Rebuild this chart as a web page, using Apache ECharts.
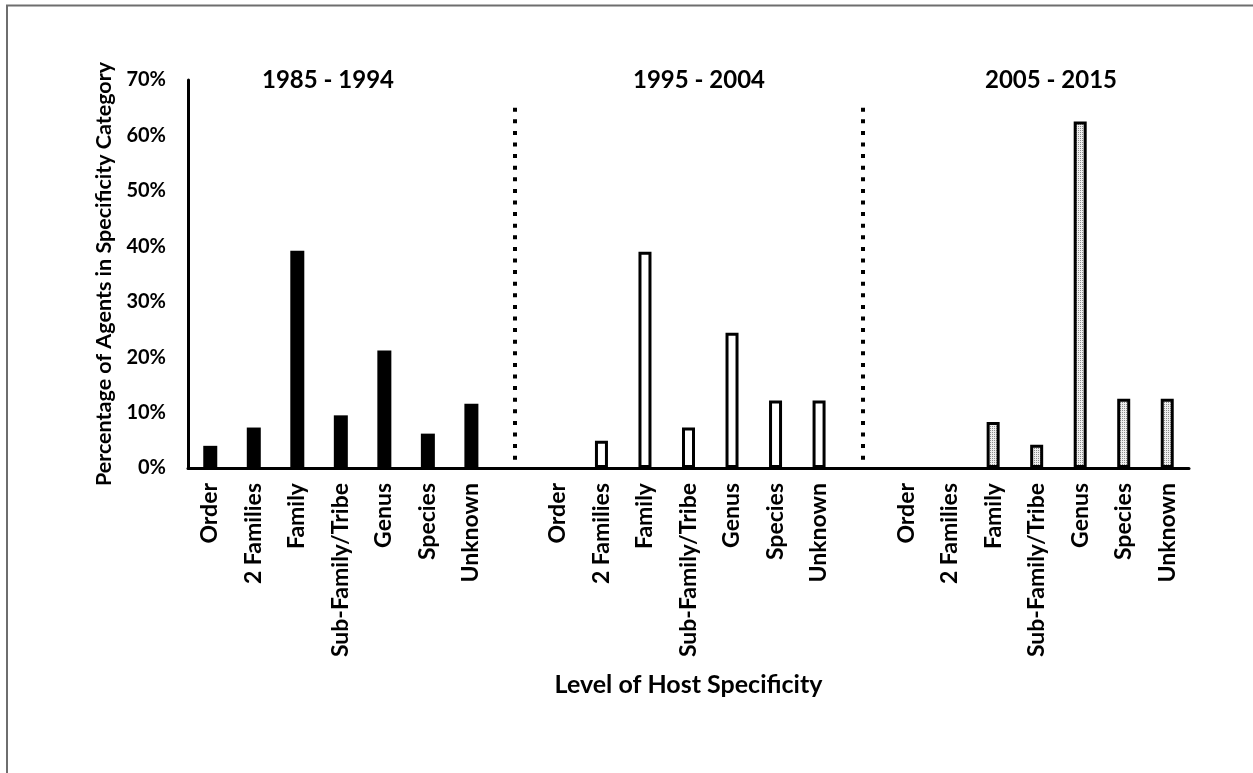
<!DOCTYPE html>
<html>
<head>
<meta charset="utf-8">
<script src="https://cdn.jsdelivr.net/npm/echarts@6/dist/echarts.min.js"></script>
<style>
  html, body { margin: 0; padding: 0; background: #fff; }
  #main { width: 1253px; height: 773px; }
</style>
</head>
<body>
<div id="main"></div>
<script>
var levels = ["Order", "2 Families", "Family", "Sub-Family/Tribe", "Genus", "Species", "Unknown"];
var periods = ["1985 - 1994", "1995 - 2004", "2005 - 2015"];
// percentage of agents per level, one array per period
var values1985 = [4.0, 7.3, 39.2, 9.5, 21.2, 6.2, 11.6];
var values1995 = [0, 4.9, 39.0, 7.3, 24.4, 12.2, 12.2];
var values2005 = [0, 0, 8.3, 4.2, 62.5, 12.5, 12.5];
var yTicks = [0, 10, 20, 30, 40, 50, 60, 70];

var chartDom = document.getElementById("main");
var myChart = echarts.init(chartDom);
var option;

// stipple fill for the last period
var pat = document.createElement("canvas");
pat.width = 2;
pat.height = 2;
var pctx = pat.getContext("2d");
pctx.fillStyle = "#eeeeee";
pctx.fillRect(0, 0, 2, 2);
pctx.fillStyle = "#8c8c8c";
pctx.fillRect(0, 0, 1, 1);

// x categories: 7 levels per period, one empty slot between periods
var cats = [];
var allValues = [values1985, values1995, values2005];
var seriesData = [[], [], []];
periods.forEach(function (p, gi) {
  if (gi > 0) {
    cats.push("gap" + gi);
    seriesData.forEach(function (d) { d.push("-"); });
  }
  levels.forEach(function (lv, li) {
    cats.push(gi + "|" + lv);
    seriesData.forEach(function (d, si) {
      var v = allValues[si][li];
      d.push(si === gi && v > 0 ? v : "-");
    });
  });
});

var font = "Lato";
var sepLine = {
  silent: true,
  symbol: "none",
  label: { show: false },
  lineStyle: { color: "#000", width: 4, type: [4, 7.6], cap: "butt" },
  data: [
    [{ coord: ["gap1", 65] }, { coord: ["gap1", 0] }],
    [{ coord: ["gap2", 65] }, { coord: ["gap2", 0] }]
  ]
};

option = {
  animation: false,
  backgroundColor: "#fff",
  textStyle: { fontFamily: font },
  graphic: [
    {
      type: "rect",
      shape: { x: 7, y: 5.5, width: 1400, height: 1000 },
      style: { fill: "none", stroke: "#6e6e6e", lineWidth: 2 },
      silent: true
    }
  ],
  title: [
    { text: periods[0], left: 328, top: 68 },
    { text: periods[1], left: 699, top: 68 },
    { text: periods[2], left: 1051, top: 68 }
  ].map(function (t) {
    t.textAlign = "center";
    t.padding = 0;
    t.textStyle = { fontFamily: font, fontWeight: "bold", fontSize: 24, color: "#000" };
    return t;
  }),
  grid: { left: 188, right: 64, top: 80, bottom: 305, containLabel: false },
  xAxis: {
    type: "category",
    data: cats,
    name: "Level of Host Specificity",
    nameLocation: "middle",
    nameGap: 204,
    nameTextStyle: { fontFamily: font, fontWeight: "bold", fontSize: 25, color: "#000" },
    axisLine: { lineStyle: { color: "#000", width: 3 } },
    axisTick: { show: false },
    axisLabel: {
      interval: 0,
      rotate: 90,
      margin: 15,
      color: "#000",
      fontFamily: font,
      fontWeight: "bold",
      fontSize: 23,
      formatter: function (v) {
        return v.indexOf("|") >= 0 ? v.split("|")[1] : "";
      }
    },
    splitLine: { show: false }
  },
  yAxis: {
    type: "value",
    min: yTicks[0],
    max: yTicks[yTicks.length - 1],
    interval: 10,
    name: "Percentage of Agents in Specificity Category",
    nameLocation: "middle",
    nameGap: 72,
    nameTextStyle: { fontFamily: font, fontWeight: "bold", fontSize: 21.5, color: "#000" },
    axisLine: { show: true, lineStyle: { color: "#000", width: 3 } },
    axisTick: { show: false },
    splitLine: { show: false },
    axisLabel: {
      margin: 22,
      color: "#000",
      fontFamily: font,
      fontWeight: "bold",
      fontSize: 20,
      formatter: "{value}%"
    }
  },
  series: [
    {
      name: periods[0],
      type: "bar",
      data: seriesData[0],
      barWidth: 14,
      barGap: "-100%",
      itemStyle: { color: "#000" },
      markLine: sepLine
    },
    {
      name: periods[1],
      type: "bar",
      data: seriesData[1],
      barWidth: 13,
      barGap: "-100%",
      itemStyle: { color: "#fff", borderColor: "#000", borderWidth: 3 }
    },
    {
      name: periods[2],
      type: "bar",
      data: seriesData[2],
      barWidth: 13,
      barGap: "-100%",
      itemStyle: { color: { image: pat, repeat: "repeat" }, borderColor: "#000", borderWidth: 3 }
    }
  ]
};

option && myChart.setOption(option);
</script>
</body>
</html>
